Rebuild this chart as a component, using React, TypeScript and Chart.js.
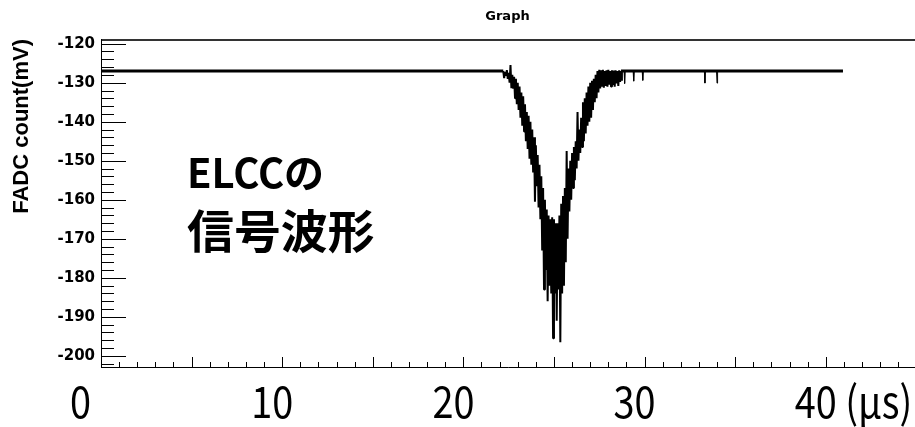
import React, { useEffect, useRef } from 'react';
import { Chart, registerables } from 'chart.js';

Chart.register(...registerables);

// ---------- texts ----------
const chartTitle = 'Graph';
const yAxisTitle = 'FADC count(mV)';
const noteLine1 = 'ELCCの';
const noteLine2 = '信号波形';

// ---------- axes ----------
const xMin = 0;
const xMax = 44.87;
const yMin = -203.1;
const yMax = -118.8;
const xTickValues = [0, 10, 20, 30, 40];
const xTickLabels = ['0', '10', '20', '30', '40 (µs)'];
const yTickValues = [-120, -130, -140, -150, -160, -170, -180, -190, -200];
const yTickLabels = ['-120', '-130', '-140', '-150', '-160', '-170', '-180', '-190', '-200'];
const xMajorStep = 5;
const xMinorStep = 1;
const yMajorStep = 10;
const yMinorStep = 2;

// ---------- data: time (μs) / FADC (mV) ----------
const baselineLevel = -127.0;
const baseLeftTimes = [0, 22.2];
const baseLeftValues = [-127.0, -127.0];
const baseRightTimes = [28.7, 40.95];
const baseRightValues = [-127.0, -127.0];

const pulseTimes = [
  22.2, 22.3, 22.4, 22.5, 22.6, 22.7, 22.8, 22.9, 23.0, 23.1,
  23.2, 23.3, 23.4, 23.5, 23.6, 23.7, 23.8, 23.9, 24.0, 24.1,
  24.2, 24.3, 24.4, 24.5, 24.6, 24.7, 24.8, 24.9, 25.0, 25.1,
  25.2, 25.3, 25.4, 25.5, 25.6, 25.7, 25.8, 25.9, 26.0, 26.1,
  26.2, 26.3, 26.4, 26.5, 26.6, 26.7, 26.8, 26.9, 27.0, 27.1,
  27.2, 27.3, 27.4, 27.5, 27.6, 27.7, 27.8, 27.9, 28.0, 28.1,
  28.2, 28.3, 28.4, 28.5, 28.6, 28.7,
];
const pulseUpper = [
  -127.0, -127.2, -126.8, -127.5, -125.5, -128.0, -128.5, -129.0, -130.0, -131.0,
  -132.5, -133.5, -135.5, -137.5, -138.5, -140.0, -142.0, -144.0, -146.0, -148.5,
  -151.0, -154.0, -157.0, -160.0, -162.5, -164.0, -165.0, -164.5, -165.0, -166.0,
  -166.0, -164.0, -161.0, -159.0, -157.0, -147.5, -152.0, -150.0, -148.0, -146.5,
  -145.0, -137.5, -142.0, -139.0, -135.0, -134.0, -132.5, -131.0, -130.0, -129.5,
  -129.0, -128.0, -127.0, -126.7, -126.8, -126.7, -127.0, -126.8, -126.7, -127.0,
  -126.8, -126.9, -126.8, -127.0, -126.8, -127.0,
];
const pulseLower = [
  -128.8, -128.2, -129.0, -130.0, -131.4, -131.5, -134.0, -135.5, -137.0, -139.0,
  -141.0, -142.5, -145.0, -147.0, -149.5, -151.0, -153.0, -160.5, -156.5, -162.0,
  -165.0, -173.0, -183.0, -178.0, -186.0, -182.0, -184.0, -195.5, -184.0, -191.0,
  -183.0, -196.5, -184.0, -182.0, -176.0, -170.0, -163.0, -160.0, -157.0, -155.0,
  -152.0, -150.0, -148.0, -146.5, -145.0, -143.0, -141.0, -140.0, -139.0, -137.0,
  -135.0, -134.0, -132.5, -131.5, -131.0, -131.3, -130.8, -131.0, -130.5, -131.0,
  -130.6, -131.0, -130.2, -130.8, -129.8, -129.5,
];

const glitchTimes = [28.9, 29.4, 29.9, 33.33, 34.0];
const glitchValues = [-130.2, -129.6, -129.4, -130.1, -130.1];

// ---------- build point tables ----------
function baselinePoints() {
  const pts: any[] = [];
  baseLeftTimes.forEach((t, i) => pts.push({ x: t, y: baseLeftValues[i] }));
  pts.push({ x: (baseLeftTimes[baseLeftTimes.length - 1] + baseRightTimes[0]) / 2, y: null });
  baseRightTimes.forEach((t, i) => pts.push({ x: t, y: baseRightValues[i] }));
  return pts;
}
function pulsePoints() {
  const pts: any[] = [];
  pulseTimes.forEach((t, i) => {
    pts.push({ x: t, y: pulseUpper[i] });
    pts.push({ x: t + 0.05, y: pulseLower[i] });
  });
  return pts;
}
function glitchPoints() {
  const pts: any[] = [];
  glitchTimes.forEach((t, i) => {
    pts.push({ x: t - 0.03, y: baselineLevel });
    pts.push({ x: t, y: glitchValues[i] });
    pts.push({ x: t + 0.03, y: baselineLevel });
    pts.push({ x: t + 0.05, y: null });
  });
  return pts;
}

const rootAxesPlugin = {
  id: 'rootAxes',
  beforeDatasetsDraw(chart: any) {
    const { ctx, chartArea: a, scales } = chart;
    const xs = scales.x;
    const ys = scales.y;
    ctx.save();
    ctx.strokeStyle = '#333';
    ctx.lineWidth = 2;
    ctx.beginPath();
    ctx.moveTo(a.left, a.top + 1);
    ctx.lineTo(chart.width, a.top + 1);
    ctx.stroke();
    ctx.strokeStyle = '#000';
    ctx.lineWidth = 1;
    ctx.beginPath();
    ctx.moveTo(a.left + 0.5, a.top);
    ctx.lineTo(a.left + 0.5, a.bottom - 0.5);
    ctx.lineTo(chart.width, a.bottom - 0.5);
    const kyLo = Math.ceil(yMin / yMinorStep);
    const kyHi = Math.floor(yMax / yMinorStep);
    for (let k = kyLo; k <= kyHi; k++) {
      const v = k * yMinorStep;
      const major = Math.abs(v % yMajorStep) < 1e-6;
      const py = Math.round(ys.getPixelForValue(v)) + 0.5;
      ctx.moveTo(a.left, py);
      ctx.lineTo(a.left + (major ? 25 : 13), py);
    }
    const kxLo = Math.ceil(xMin / xMinorStep);
    const kxHi = Math.floor(xMax / xMinorStep);
    for (let k = kxLo; k <= kxHi; k++) {
      const v = k * xMinorStep;
      const major = Math.abs(v % xMajorStep) < 1e-6;
      const px = Math.round(xs.getPixelForValue(v)) + 0.5;
      ctx.moveTo(px, a.bottom);
      ctx.lineTo(px, a.bottom - (major ? 11 : 6));
    }
    ctx.stroke();
    ctx.restore();
  },
  afterDraw(chart: any) {
    const { ctx, chartArea: a, scales } = chart;
    const xs = scales.x;
    ctx.save();
    ctx.fillStyle = '#000';
    ctx.textBaseline = 'alphabetic';
    ctx.textAlign = 'left';
    // large x-axis labels (slide-style, condensed)
    ctx.font = '44px "Noto Sans CJK JP"';
    xTickValues.forEach((v, i) => {
      ctx.save();
      ctx.translate(xs.getPixelForValue(v) - 31, a.bottom + 50);
      ctx.scale(0.86, 1);
      ctx.fillText(xTickLabels[i], 0, 0);
      ctx.restore();
    });
    // annotation
    ctx.font = 'bold 40px "Noto Sans CJK JP"';
    ctx.fillText(noteLine1, 187, 188);
    ctx.translate(187, 248);
    ctx.scale(1.02, 1);
    ctx.font = 'bold 46px "Noto Sans CJK JP"';
    ctx.fillText(noteLine2, 0, 0);
    ctx.restore();
  },
};

export default function App() {
  const ref = useRef<HTMLCanvasElement | null>(null);
  useEffect(() => {
    if (!ref.current) return;
    const chart = new Chart(ref.current, {
      type: 'line',
      data: {
        datasets: [
          {
            label: 'baseline',
            data: baselinePoints(),
            borderColor: '#000',
            borderWidth: 3,
            pointRadius: 0,
            spanGaps: false,
            borderJoinStyle: 'bevel',
          },
          {
            label: 'pulse',
            data: pulsePoints(),
            borderColor: '#000',
            borderWidth: 2,
            pointRadius: 0,
            borderJoinStyle: 'bevel',
          },
          {
            label: 'glitch',
            data: glitchPoints(),
            borderColor: '#000',
            borderWidth: 1,
            pointRadius: 0,
            spanGaps: false,
            borderJoinStyle: 'bevel',
          },
        ] as any,
      },
      options: {
        responsive: false,
        animation: false,
        events: [],
        layout: { padding: { left: 0, right: 1, top: 0, bottom: 0 } },
        plugins: {
          legend: { display: false },
          tooltip: { enabled: false },
          title: {
            display: true,
            text: chartTitle,
            color: '#000',
            fullSize: false,
            font: { family: 'DejaVu Sans', weight: 'bold', size: 13, lineHeight: 1.2 },
            padding: { top: 9, bottom: 14.4 },
          },
        },
        scales: {
          x: {
            type: 'linear',
            min: xMin,
            max: xMax,
            grid: { display: false, drawTicks: false },
            border: { display: false },
            afterBuildTicks: (s: any) => {
              s.ticks = xTickValues.map((v) => ({ value: v }));
            },
            afterFit: (s: any) => {
              s.height = 59;
              s.paddingLeft = 0;
              s.paddingRight = 0;
            },
            ticks: { display: false },
          },
          y: {
            type: 'linear',
            min: yMin,
            max: yMax,
            grid: { display: false, drawTicks: false },
            border: { display: false },
            afterBuildTicks: (s: any) => {
              s.ticks = yTickValues.map((v) => ({ value: v }));
            },
            afterFit: (s: any) => {
              s.width = 101;
              s.paddingTop = 0;
              s.paddingBottom = 0;
            },
            title: {
              display: true,
              text: yAxisTitle,
              align: 'end',
              color: '#000',
              font: { family: 'Liberation Sans', weight: 'bold', size: 22, lineHeight: 1.2 },
              padding: { top: 9, bottom: 0 },
            },
            ticks: {
              autoSkip: false,
              padding: 6,
              color: '#000',
              font: { family: 'DejaVu Sans', weight: 'bold', size: 15 },
              callback: (v: any) => {
                const i = yTickValues.indexOf(Number(v));
                return i >= 0 ? yTickLabels[i] : '';
              },
            },
          },
        },
      } as any,
      plugins: [rootAxesPlugin],
    });
    return () => chart.destroy();
  }, []);
  return (
    <div style={{ position: 'fixed', left: 0, top: 0, width: 915, height: 427, background: '#fff' }}>
      <canvas ref={ref} width={915} height={427} style={{ display: 'block' }} />
    </div>
  );
}
